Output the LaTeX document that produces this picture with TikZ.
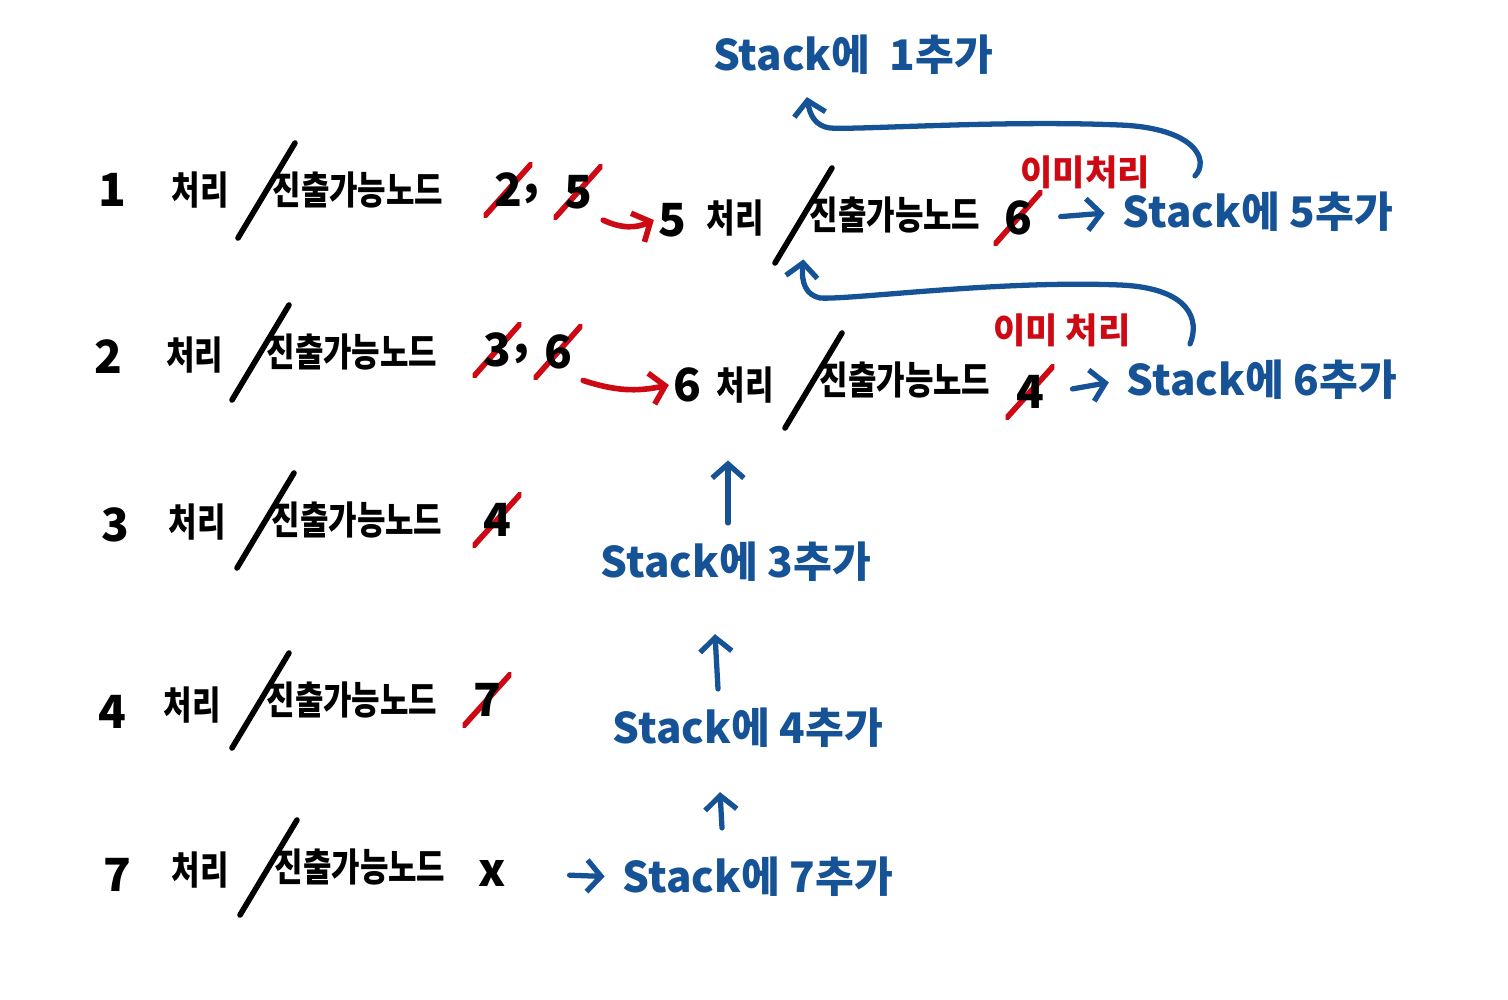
\documentclass[tikz,border=0pt]{standalone}
\usepackage{fontspec}
\setmainfont{Noto Sans CJK KR}
\newfontfamily\narrowfont[FakeStretch=0.8]{Noto Sans CJK KR}
\usepackage{xcolor}
\usetikzlibrary{arrows.meta,calc}
\definecolor{penblue}{RGB}{22,82,150}
\definecolor{penred}{RGB}{205,10,20}

\begin{document}
\begin{tikzpicture}[
  x=0.01cm, y=-0.01cm,
  txt/.style={inner sep=1pt, font=\fontsize{11}{13}\narrowfont\bfseries},
  num/.style={inner sep=1pt, font=\fontsize{13}{15}\selectfont\bfseries},
  xout/.style={num, inner sep=3pt, path picture={\draw[penred, line width=1.6pt, line cap=round]
      (path picture bounding box.south west) -- (path picture bounding box.north east);}},
  slash/.style={line width=1.6pt, line cap=round},
  stk/.style={inner sep=1pt, text=penblue, font=\fontsize{12}{14}\selectfont\bfseries},
  note/.style={inner sep=1pt, text=penred, font=\fontsize{10}{12}\selectfont\bfseries},
  barr/.style={penblue, line width=1.5pt, line cap=round, -{Straight Barb[length=4pt,width=9pt]}},
  rarr/.style={penred, line width=1.6pt, line cap=round, -{Straight Barb[length=4pt,width=9pt]}}
]
\useasboundingbox (0,0) rectangle (1508,1000);

% row 1
\node[num] (n1) at (112,190) {1};
\node[txt] (p1) at (200,190) {처리};
\node[txt] (o1) at (358,190) {진출가능노드};
\node[xout] (d12) at (508,190) {2};
\node[num] (c1) at (532,194) {,};
\node[xout] (d15) at (578,192) {5};
\node[num] (n5) at (672,220) {5};
\node[txt] (p5) at (735,218) {처리};
\node[txt] (o5) at (895,215) {진출가능노드};
\node[xout] (d56) at (1018,218) {6};
\node[note] (r5) at (1085,172) {이미처리};
\node[stk] (s5) at (1258,212) {Stack에 5추가};

% row 2
\node[num] (n2) at (108,357) {2};
\node[txt] (p2) at (195,355) {처리};
\node[txt] (o2) at (352,352) {진출가능노드};
\node[xout] (d23) at (497,350) {3};
\node[num] (c2) at (522,354) {,};
\node[xout] (d26) at (558,352) {6};
\node[num] (n6) at (687,385) {6};
\node[txt] (p6) at (745,385) {처리};
\node[txt] (o6) at (905,380) {진출가능노드};
\node[xout] (d64) at (1030,392) {4};
\node[note] (r6) at (1062,330) {이미 처리};
\node[stk] (s6) at (1262,380) {Stack에 6추가};

% rows 3, 4, 7
\node[num] (n3) at (115,525) {3};
\node[txt] (p3) at (197,522) {처리};
\node[txt] (o3) at (357,520) {진출가능노드};
\node[xout] (d34) at (497,520) {4};
\node[num] (n4) at (112,712) {4};
\node[txt] (p4) at (192,705) {처리};
\node[txt] (o4) at (352,700) {진출가능노드};
\node[xout] (d47) at (487,700) {7};
\node[num] (n7) at (117,875) {7};
\node[txt] (p7) at (200,870) {처리};
\node[txt] (o7) at (360,867) {진출가능노드};
\node[num] (x7) at (492,873) {x};

% stack pushes
\node[stk] (s1) at (853,55) {Stack에 \ 1추가};
\node[stk] (s3) at (736,562) {Stack에 3추가};
\node[stk] (s4) at (748,728) {Stack에 4추가};
\node[stk] (s7) at (758,877) {Stack에 7추가};

\foreach \o in {o1,o2,o3,o4,o5,o6,o7}
  \draw[slash] ($(\o)+(-120,48)$) -- ($(\o)+(-63,-47)$);

\draw[rarr] (d15.south east) to[bend right=25] (n5.west);
\draw[rarr] (d26.south east) to[bend right=15] (n6.west);
\draw[barr, shorten <=5pt, shorten >=4pt] (d56.east) -- (s5.west);
\draw[barr, shorten <=5pt, shorten >=4pt] (d64.east) -- (s6.west);
\draw[barr, shorten <=17pt, shorten >=4pt] (x7.east) -- (s7.west);

\draw[barr] ($(s7.north)+(-36,-25)$) -- ($(s4.south)+(-28,40)$);
\draw[barr] ($(s4.north)+(-30,-15)$) -- ($(s3.south)+(-21,48)$);
\draw[barr] ($(s3.north)+(-8,-15)$) -- ($(p6.south)+(-17,53)$);

\draw[barr] ($(s6.north)+(-72,-12)$) .. controls (1200,320) and (1190,288) .. (1120,285)
  .. controls (1000,280) and (850,300) .. (820,298) .. controls (806,295) and (801,283) .. ($(o5.south west)+(-2,22)$);
\draw[barr] ($(s5.north)+(-63,-12)$) .. controls (1210,160) and (1195,128) .. (1120,125)
  .. controls (1000,120) and (860,130) .. (830,128) .. controls (815,126) and (810,115) .. ($(s1.south west)+(98,18)$);
\end{tikzpicture}
\end{document}
